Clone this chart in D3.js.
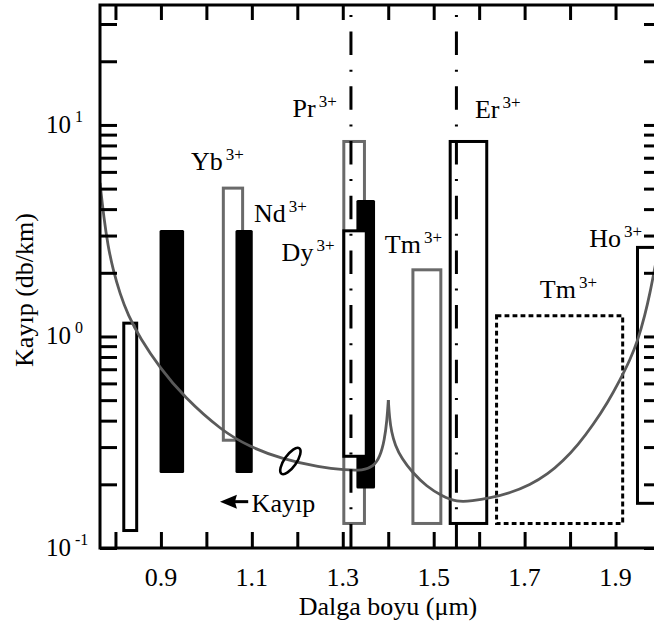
<!DOCTYPE html>
<html>
<head>
<meta charset="utf-8">
<script src="https://cdn.jsdelivr.net/npm/d3@7"></script>
<style>
body { margin: 0; background: #fff; }
text { font-family: "Liberation Serif", "Times New Roman", serif; fill: #000; }
</style>
</head>
<body>
<div id="chart"></div>
<script>
//Axis values
const xTickValues = [0.8, 0.9, 1.0, 1.1, 1.2, 1.3, 1.4, 1.5, 1.6, 1.7, 1.8, 1.9];
const xTickLabels = [0.9, 1.1, 1.3, 1.5, 1.7, 1.9];
const yDecades = [0.1, 1, 10];
const yExponents = ['-1', '0', '1'];

//Doping bands (wavelength in um, loss in db/km)
const bandName = ['Tm080', 'Nd090', 'Yb', 'Nd106', 'Pr', 'Nd133', 'Dy', 'Tm147', 'Er', 'Tm180', 'Ho'];
const bandX0   = [0.815, 0.897, 1.034, 1.064, 1.299, 1.330, 1.299, 1.451, 1.533, 1.635, 1.945];
const bandX1   = [0.850, 0.951, 1.083, 1.102, 1.351, 1.371, 1.355, 1.519, 1.620, 1.919, 2.030];
const bandLo   = [0.119, 0.226, 0.318, 0.226, 0.1285, 0.191, 0.267, 0.1285, 0.1285, 0.1285, 0.160];
const bandHi   = [1.175, 3.19, 5.11, 3.19, 8.49, 4.42, 3.21, 2.10, 8.49, 1.274, 2.68];
const bandKind = ['black', 'filled', 'gray', 'filled', 'gray', 'filled', 'black', 'gray', 'black', 'dotted', 'black'];

//Ion labels
const ionLabel  = ['Yb', 'Nd', 'Pr', 'Dy', 'Tm', 'Er', 'Tm', 'Ho'];
const ionLabelX = [0.966, 1.1045, 1.1896, 1.1655, 1.3926, 1.5906, 1.7335, 1.842];
const ionLabelY = [6.13, 3.49, 10.87, 2.28, 2.47, 10.76, 1.516, 2.66];

//Pump lines (dash-dot)
const pumpLines = [1.318, 1.55];

//Loss curve (split at the OH peak)
const lossLeftX  = [0.766, 0.7748, 0.7836, 0.7946, 0.8100, 0.8276, 0.8540, 0.8980, 0.9508, 1.0343, 1.0959, 1.1663, 1.2499, 1.3049, 1.3445, 1.3671, 1.3819, 1.3918, 1.3973, 1.4002];
const lossLeftY  = [5.317, 3.593, 2.678, 2.073, 1.588, 1.264, 0.9835, 0.7096, 0.5176, 0.3573, 0.3003, 0.2635, 0.2405, 0.2338, 0.2325, 0.2424, 0.2692, 0.324, 0.4028, 0.5008];
const lossRightX = [1.4002, 1.4028, 1.4072, 1.4149, 1.4303, 1.4523, 1.4846, 1.5182, 1.5506, 1.5842, 1.6238, 1.6678, 1.7118, 1.7514, 1.7844, 1.8174, 1.8504, 1.8834, 1.9098, 1.9318, 1.9494, 1.9648, 1.9758, 1.9846, 2.0];
const lossRightY = [0.5008, 0.4117, 0.3535, 0.3069, 0.2635, 0.2287, 0.195, 0.1761, 0.165, 0.1668, 0.1723, 0.182, 0.1986, 0.2238, 0.2578, 0.3069, 0.3815, 0.49, 0.6227, 0.7741, 0.9625, 1.264, 1.605, 2.018, 2.985];

//Annotation: the "Kayip" arrow and the ellipse marking the curve
const arrowX = [1.0298, 1.092], arrowY = 0.1656;
const arrowTextX = 1.0995, arrowTextY = 0.1484;
const ellipseX = 1.1848, ellipseY = 0.2578;

//Size
const width = 654,
      height = 628;
const mLeft = 100, mRight = 661, mTop = 5, mBottom = 548;

var svg = d3.select('#chart')
            .append('svg')
            .attr('width', width)
            .attr('height', height);

var x = d3.scaleLinear().domain([0.766, 2.0]).range([mLeft, mRight]);
var y = d3.scaleLog().domain([0.1, 36.9]).range([mBottom, mTop]);

var defs = svg.append('defs');
defs.append('clipPath')
   .attr('id', 'plot')
   .append('rect')
   .attr('x', mLeft).attr('y', mTop)
   .attr('width', mRight - mLeft).attr('height', mBottom - mTop);

var plot = svg.append('g').attr('clip-path', 'url(#plot)');

//Bands
const styles = {
  filled: { fill: '#000', stroke: 'none', sw: 0, dash: null },
  black:  { fill: '#fff', stroke: '#000', sw: 3, dash: null },
  gray:   { fill: '#fff', stroke: '#6a6a6a', sw: 3, dash: null },
  dotted: { fill: 'none', stroke: '#000', sw: 3, dash: '4.8,3.2' }
};
var bands = bandName.map(function (n, i) {
  return { name: n, x0: bandX0[i], x1: bandX1[i], lo: bandLo[i], hi: bandHi[i], kind: bandKind[i] };
});

plot.selectAll('rect.band')
    .data(bands)
    .enter()
    .append('rect')
    .attr('class', 'band')
    .attr('x', function (d) { return x(d.x0) + styles[d.kind].sw / 2; })
    .attr('y', function (d) { return y(d.hi) + styles[d.kind].sw / 2; })
    .attr('width', function (d) { return x(d.x1) - x(d.x0) - styles[d.kind].sw; })
    .attr('height', function (d) { return y(d.lo) - y(d.hi) - styles[d.kind].sw; })
    .attr('rx', function (d) { return d.kind === 'filled' ? 1.5 : 0; })
    .attr('fill', function (d) { return styles[d.kind].fill; })
    .attr('stroke', function (d) { return styles[d.kind].stroke; })
    .attr('stroke-width', function (d) { return styles[d.kind].sw; })
    .attr('stroke-dasharray', function (d) { return styles[d.kind].dash; });

//Loss curve
var line = d3.line()
             .x(function (d) { return x(d[0]); })
             .y(function (d) { return y(d[1]); })
             .curve(d3.curveBasis);

[[lossLeftX, lossLeftY], [lossRightX, lossRightY]].forEach(function (s) {
  plot.append('path')
      .datum(d3.zip(s[0], s[1]))
      .attr('d', line)
      .attr('fill', 'none')
      .attr('stroke', '#5a5a5a')
      .attr('stroke-width', 2.8)
      .attr('stroke-linejoin', 'round');
});

//Pump lines
plot.selectAll('line.pump')
    .data(pumpLines)
    .enter()
    .append('line')
    .attr('class', 'pump')
    .attr('x1', function (d) { return x(d); })
    .attr('x2', function (d) { return x(d); })
    .attr('y1', mTop)
    .attr('y2', mBottom)
    .attr('stroke', '#000')
    .attr('stroke-width', 3)
    .attr('stroke-dasharray', '23.5,14.6,2,14.6')
    .attr('stroke-dashoffset', 28.1);

//Ellipse marker on the curve
svg.append('ellipse')
   .attr('cx', 0).attr('cy', 0)
   .attr('rx', 15.5).attr('ry', 6)
   .attr('transform', 'translate(' + x(ellipseX) + ',' + y(ellipseY) + ') rotate(-55)')
   .attr('fill', 'none')
   .attr('stroke', '#000')
   .attr('stroke-width', 2.6);

//Arrow + Kayip
defs.append('marker')
   .attr('id', 'head')
   .attr('viewBox', '0 0 17 15')
   .attr('markerUnits', 'userSpaceOnUse')
   .attr('refX', 7).attr('refY', 7.5)
   .attr('markerWidth', 17).attr('markerHeight', 15)
   .attr('orient', 'auto-start-reverse')
   .append('path')
   .attr('d', 'M17,7.5 L0,0.5 L2,7.5 L0,14.5 Z')
   .attr('fill', '#000');
svg.append('line')
   .attr('x1', x(arrowX[0]) + 10).attr('x2', x(arrowX[1]))
   .attr('y1', y(arrowY)).attr('y2', y(arrowY))
   .attr('stroke', '#000')
   .attr('stroke-width', 3)
   .attr('marker-start', 'url(#head)');
svg.append('text')
   .attr('x', x(arrowTextX))
   .attr('y', y(arrowTextY))
   .style('font-size', '26px')
   .text('Kayıp');

//Ion labels
var lab = svg.selectAll('text.ion')
             .data(ionLabel)
             .enter()
             .append('text')
             .attr('class', 'ion')
             .attr('x', function (d, i) { return x(ionLabelX[i]); })
             .attr('y', function (d, i) { return y(ionLabelY[i]); })
             .style('font-size', '26px');
lab.append('tspan').text(function (d) { return d; });
lab.append('tspan')
   .attr('dx', 3).attr('dy', -10)
   .style('font-size', '17px')
   .text('3+');

//Axes (ticks inward)
svg.append('g')
   .attr('transform', 'translate(0,' + mBottom + ')')
   .call(d3.axisTop(x).tickValues(xTickValues).tickSize(16).tickFormat(''))
   .call(function (g) { g.select('.domain').remove(); });
svg.append('g')
   .attr('transform', 'translate(0,' + mTop + ')')
   .call(d3.axisBottom(x).tickValues(xTickValues).tickSize(15).tickFormat(''))
   .call(function (g) { g.select('.domain').remove(); });
svg.append('g')
   .attr('transform', 'translate(' + mLeft + ',0)')
   .call(d3.axisRight(y).tickSize(17).tickFormat(''))
   .call(function (g) { g.select('.domain').remove(); });
svg.append('g')
   .attr('transform', 'translate(' + mRight + ',0)')
   .call(d3.axisLeft(y).tickSize(17).tickFormat(''))
   .call(function (g) { g.select('.domain').remove(); });
svg.selectAll('.tick line').attr('stroke', '#000').attr('stroke-width', 3);

svg.append('rect')
   .attr('x', mLeft).attr('y', mTop)
   .attr('width', mRight - mLeft).attr('height', mBottom - mTop)
   .attr('fill', 'none')
   .attr('stroke', '#000')
   .attr('stroke-width', 3);

//Tick labels
svg.selectAll('text.xl')
   .data(xTickLabels)
   .enter()
   .append('text')
   .attr('class', 'xl')
   .attr('x', function (d) { return x(d); })
   .attr('y', mBottom + 38)
   .attr('text-anchor', 'middle')
   .style('font-size', '26px')
   .text(function (d) { return d3.format('.1f')(d); });

var yl = svg.selectAll('text.yl')
            .data(yDecades)
            .enter()
            .append('text')
            .attr('class', 'yl')
            .attr('x', mLeft - 54)
            .attr('y', function (d) { return y(d) + 8; })
            .style('font-size', '25px');
yl.append('tspan').text('10');
yl.append('tspan')
  .attr('dx', 4).attr('dy', -11)
  .style('font-size', '16px')
  .text(function (d, i) { return yExponents[i]; });

//Axis titles
svg.append('text')
   .attr('x', 388)
   .attr('y', 615)
   .attr('text-anchor', 'middle')
   .style('font-size', '26px')
   .text('Dalga boyu (μm)');
svg.append('text')
   .attr('transform', 'translate(33,290) rotate(-90)')
   .attr('text-anchor', 'middle')
   .style('font-size', '26px')
   .text('Kayıp (db/km)');
</script>
</body>
</html>
